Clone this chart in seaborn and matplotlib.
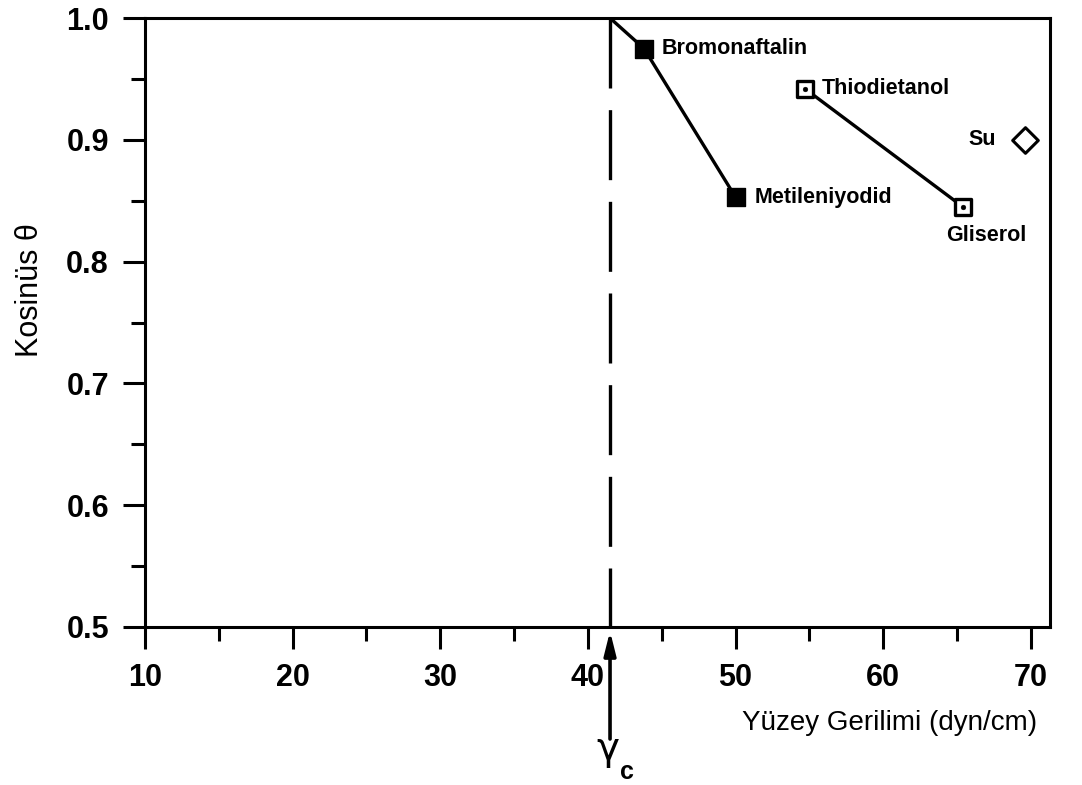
import numpy as np
import pandas as pd
import matplotlib
matplotlib.use("Agg")
import matplotlib.pyplot as plt
import seaborn as sns

# ---- data ----
liquids = ["Bromonaftalin", "Metileniyodid", "Thiodietanol", "Gliserol", "Su"]
tension = [43.8, 50.0, 54.7, 65.4, 69.6]
cosine = [0.975, 0.853, 0.942, 0.845, 0.900]
group = ["A", "A", "B", "B", "C"]
gamma_c = 41.5
fit_a_x = [41.5, 43.8, 50.0]
fit_a_y = [1.0, 0.975, 0.853]
fit_b_x = [54.7, 65.4]
fit_b_y = [0.942, 0.845]
xticks = [10, 20, 30, 40, 50, 60, 70]
yticks = [0.5, 0.6, 0.7, 0.8, 0.9, 1.0]

sns.set_style("ticks")
plt.rcParams["font.family"] = ["Liberation Sans", "DejaVu Sans"]
plt.rcParams["text.color"] = "black"
plt.rcParams["xtick.color"] = "black"
plt.rcParams["ytick.color"] = "black"
plt.rcParams["axes.labelcolor"] = "black"

fig = plt.figure(figsize=(10.82, 7.85), dpi=100)
ax = fig.add_axes([0.134, 0.2013, 0.8364, 0.7757])

df = pd.DataFrame({"liquid": liquids, "x": tension, "y": cosine, "g": group})

# dashed critical line (drawn from the top down)
ax.plot([gamma_c, gamma_c], [1.0, 0.5], color="black", lw=2.4,
        ls=(0, (21, 6.5)), zorder=2)

# fitted lines
sns.lineplot(x=fit_a_x, y=fit_a_y, ax=ax, color="black", lw=2.4,
             sort=False, estimator=None, zorder=3)
sns.lineplot(x=fit_b_x, y=fit_b_y, ax=ax, color="black", lw=2.4,
             sort=False, estimator=None, zorder=3)

# markers
a = df[df.g == "A"]
b = df[df.g == "B"]
c = df[df.g == "C"]
sns.scatterplot(data=a, x="x", y="y", ax=ax, marker="s", s=150,
                color="black", edgecolor="black", zorder=4)
sns.scatterplot(data=b, x="x", y="y", ax=ax, marker="s", s=120,
                facecolor="white", edgecolor="black", linewidth=2.4, zorder=4)
sns.scatterplot(data=b, x="x", y="y", ax=ax, marker="o", s=12,
                color="black", edgecolor="black", zorder=5)
sns.scatterplot(data=c, x="x", y="y", ax=ax, marker="D", s=170,
                facecolor="white", edgecolor="black", linewidth=2.2, zorder=4)

# labels
offsets = {
    "Bromonaftalin": ((13, 0), "left", "center"),
    "Metileniyodid": ((14, 0), "left", "center"),
    "Thiodietanol": ((12, 0), "left", "center"),
    "Gliserol": ((-12, -21), "left", "center"),
    "Su": ((-21, 0), "right", "center"),
}
for name, xv, yv in zip(liquids, tension, cosine):
    off, ha, va = offsets[name]
    ax.annotate(name, (xv, yv), xytext=off, textcoords="offset points",
                ha=ha, va=va, fontsize=15.5, fontweight="bold", color="black")

ax.set_xlim(10, 71.3)
ax.set_ylim(0.5, 1.0)
ax.set_xticks(xticks)
ax.set_xticklabels([str(t) for t in xticks])
ax.set_yticks(yticks)
ax.set_yticklabels([f"{t:.1f}" for t in yticks])
ax.set_xticks(np.arange(15, 70, 10), minor=True)
ax.set_yticks(np.arange(0.55, 1.0, 0.1), minor=True)
ax.tick_params(axis="both", which="major", direction="out", length=16,
               width=2.2, labelsize=22, pad=10, color="black")
ax.tick_params(axis="both", which="minor", direction="out", length=10,
               width=2.2, color="black")
for lab in ax.get_xticklabels() + ax.get_yticklabels():
    lab.set_fontweight("bold")
for s in ax.spines.values():
    s.set_linewidth(2.2)
    s.set_color("black")
    s.set_visible(True)

ax.set_xlabel("")
ax.set_ylabel("")
fig.text(1037 / 1082, 1 - 723 / 785, "Yüzey Gerilimi (dyn/cm)", ha="right",
         va="center", fontsize=20, color="black")
fig.text(30 / 1082, 1 - 290 / 785, "Kosinüs θ", ha="center", va="center",
         rotation=90, fontsize=22, color="black")

# arrow marking gamma_c
ax.annotate("", xy=(gamma_c, 0.5), xycoords="data",
            xytext=(gamma_c, 0.5 - 0.092), textcoords="data",
            arrowprops=dict(arrowstyle="-|>,head_width=0.35,head_length=1.4",
                            color="black", lw=2.6, shrinkA=0, shrinkB=3),
            annotation_clip=False)
fig.text(608 / 1082, 1 - 749 / 785, "γ", ha="center", va="center",
         fontsize=28, color="black", family=["DejaVu Sans"])
fig.text(627 / 1082, 1 - 772 / 785, "c", ha="center", va="center",
         fontsize=18, fontweight="bold", color="black")

fig.savefig("out.png", dpi=100)
